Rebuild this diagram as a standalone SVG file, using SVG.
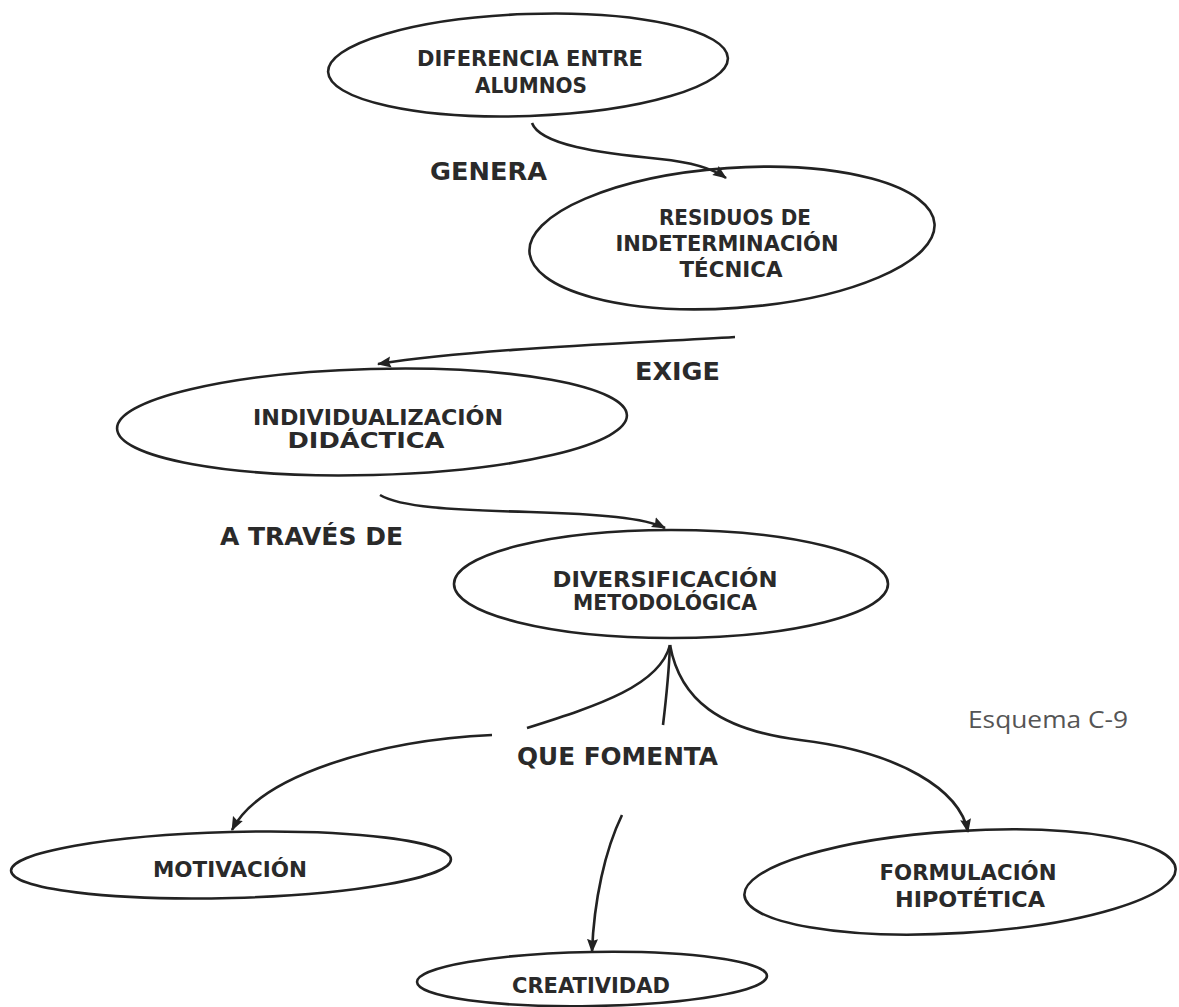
<svg xmlns="http://www.w3.org/2000/svg" width="1179" height="1007" viewBox="0 0 1179 1007">
<style>
.node ellipse{fill:none;stroke:#222;stroke-width:2.6}
.nt{font-family:"DejaVu Sans","Liberation Sans",sans-serif;font-weight:bold;font-size:22px;fill:#2a2a2a;text-anchor:middle}
.lbl{font-family:"DejaVu Sans","Liberation Sans",sans-serif;font-weight:bold;font-size:25px;fill:#2a2a2a}
.con path{fill:none;stroke:#222;stroke-width:2.6}
.note{font-family:"Open Sans","Noto Sans",sans-serif;font-size:24px;fill:#555}
</style>
<defs>
<marker id="ah" viewBox="0 0 14 12" refX="13" refY="6" markerWidth="14" markerHeight="12" markerUnits="userSpaceOnUse" orient="auto">
<path d="M0,0.5 L14,6 L0,11.5 L2,6 z" fill="#222"/>
</marker>
</defs>
<rect width="1179" height="1007" fill="#fff"/>

<g id="n1" class="node">
<ellipse cx="528" cy="65" rx="200" ry="51" transform="rotate(-2 528 65)"/>
<text class="nt" x="530" y="66" textLength="226" lengthAdjust="spacingAndGlyphs">DIFERENCIA ENTRE</text>
<text class="nt" x="531" y="93" textLength="112" lengthAdjust="spacingAndGlyphs">ALUMNOS</text>
</g>

<g id="n2" class="node">
<ellipse cx="732" cy="238" rx="203" ry="70" transform="rotate(-4 732 238)"/>
<text class="nt" x="735" y="225" textLength="152" lengthAdjust="spacingAndGlyphs">RESIDUOS DE</text>
<text class="nt" x="727" y="251" textLength="223" lengthAdjust="spacingAndGlyphs">INDETERMINACIÓN</text>
<text class="nt" x="731" y="277" textLength="103" lengthAdjust="spacingAndGlyphs">TÉCNICA</text>
</g>

<g id="n3" class="node">
<ellipse cx="372" cy="422" rx="255" ry="53" transform="rotate(-1.5 372 422)"/>
<text class="nt" x="378" y="425" textLength="250" lengthAdjust="spacingAndGlyphs">INDIVIDUALIZACIÓN</text>
<text class="nt" x="366" y="448" textLength="157" lengthAdjust="spacingAndGlyphs">DIDÁCTICA</text>
</g>

<g id="n4" class="node">
<ellipse cx="671" cy="584" rx="217" ry="54"/>
<text class="nt" x="665" y="587" textLength="225" lengthAdjust="spacingAndGlyphs">DIVERSIFICACIÓN</text>
<text class="nt" x="665" y="610" textLength="184" lengthAdjust="spacingAndGlyphs">METODOLÓGICA</text>
</g>

<g id="n5" class="node">
<ellipse cx="231" cy="865" rx="220" ry="33" transform="rotate(-1.5 231 865)"/>
<text class="nt" x="230" y="877" textLength="154" lengthAdjust="spacingAndGlyphs">MOTIVACIÓN</text>
</g>

<g id="n6" class="node">
<ellipse cx="960" cy="882" rx="216" ry="51" transform="rotate(-3.5 960 882)"/>
<text class="nt" x="968" y="880" textLength="177" lengthAdjust="spacingAndGlyphs">FORMULACIÓN</text>
<text class="nt" x="970" y="907" textLength="150" lengthAdjust="spacingAndGlyphs">HIPOTÉTICA</text>
</g>

<g id="n7" class="node">
<ellipse cx="592" cy="979" rx="175" ry="27" transform="rotate(-1 592 979)"/>
<text class="nt" x="591" y="993" textLength="158" lengthAdjust="spacingAndGlyphs">CREATIVIDAD</text>
</g>

<g id="connectors" class="con">
<path d="M532,123 C540,145 600,153 660,159 C690,162 712,168 726,178" marker-end="url(#ah)"/>
<path d="M735,337 C640,343 480,348 378,364" marker-end="url(#ah)"/>
<path d="M380,495 C400,507 450,510 530,512 C600,514 645,518 665,528" marker-end="url(#ah)"/>
<path d="M527,728 C600,705 660,685 670,645"/>
<path d="M670,645 C680,700 720,730 800,740 C900,752 960,790 968,832" marker-end="url(#ah)"/>
<path d="M670,645 C669,670 666,700 663,725"/>
<path d="M492,735 C380,740 260,775 232,830" marker-end="url(#ah)"/>
<path d="M622,815 C605,850 594,900 592,952" marker-end="url(#ah)"/>
</g>

<g id="labels">
<text class="lbl" x="430" y="180" textLength="117" lengthAdjust="spacingAndGlyphs">GENERA</text>
<text class="lbl" x="635" y="380" textLength="85" lengthAdjust="spacingAndGlyphs">EXIGE</text>
<text class="lbl" x="220" y="545" textLength="183" lengthAdjust="spacingAndGlyphs">A TRAVÉS DE</text>
<text class="lbl" x="517" y="765" textLength="201" lengthAdjust="spacingAndGlyphs">QUE FOMENTA</text>
<text class="note" x="968" y="728" textLength="160" lengthAdjust="spacingAndGlyphs">Esquema C-9</text>
</g>
</svg>
